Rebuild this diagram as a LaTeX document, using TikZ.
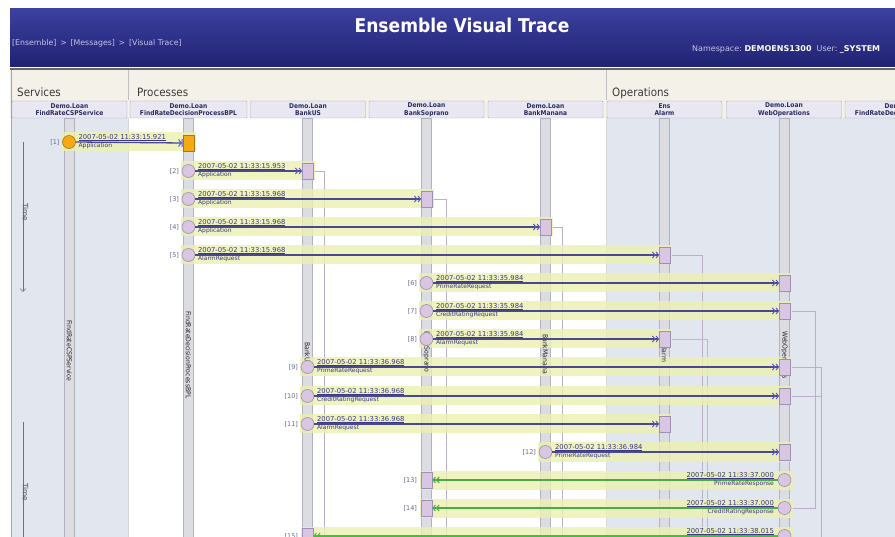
\documentclass[tikz,border=0pt]{standalone}
\usepackage{fontspec}
\setmainfont{DejaVu Sans}
\newfontfamily\condfont{DejaVu Sans Condensed}
\usetikzlibrary{arrows.meta,shapes.geometric}
\pgfdeclarelayer{back}
\pgfdeclarelayer{bands}
\pgfsetlayers{back,bands,main}
\definecolor{navyA}{HTML}{3D409E}
\definecolor{navyB}{HTML}{1F2272}
\definecolor{cream}{HTML}{F4F2E8}
\definecolor{lane}{HTML}{E2E7EF}
\definecolor{hdrbox}{HTML}{E8E7F2}
\definecolor{hdredge}{HTML}{A9A7C9}
\definecolor{hdrtxt}{HTML}{2C2C5E}
\definecolor{lifefill}{HTML}{DCDCE3}
\definecolor{lifeedge}{HTML}{B2B2BE}
\definecolor{bandc}{HTML}{ECF0B0}
\definecolor{msg}{HTML}{4A4890}
\definecolor{tipc}{HTML}{5A58C8}
\definecolor{stamp}{HTML}{3B3785}
\definecolor{lbl}{HTML}{6A6A98}
\definecolor{lav}{HTML}{D8C6E2}
\definecolor{lavedge}{HTML}{9E90B2}
\definecolor{orangeA}{HTML}{F5A915}
\definecolor{resp}{HTML}{4DAA48}
\definecolor{respB}{HTML}{3CC23C}
\definecolor{durline}{HTML}{B9B0C6}
\definecolor{pinkline}{HTML}{E2A6C4}
\definecolor{crumb}{HTML}{C4C4EC}
\definecolor{sect}{HTML}{3A3A3A}
\tikzset{
  circ/.style={circle, draw=lavedge, fill=lav, minimum size=13pt, inner sep=0pt, line width=0.6pt},
  lbox/.style={rectangle, draw=lavedge, fill=lav, minimum width=11pt, minimum height=16pt, inner sep=0pt, line width=0.6pt},
  msgline/.style={draw=msg, line width=1.5pt, -{Straight Barb[length=2.5pt,width=6pt,line width=1pt,color=tipc] Straight Barb[length=2.5pt,width=6pt,line width=1pt,color=tipc]}},
  respline/.style={draw=resp, line width=1.3pt, -{Straight Barb[length=2.5pt,width=6pt,line width=1pt] Straight Barb[length=2.5pt,width=6pt,line width=1pt]}},
  respthick/.style={draw=respB, line width=2.4pt, -{Straight Barb[length=2.5pt,width=6pt,line width=1pt] Straight Barb[length=2.5pt,width=6pt,line width=1pt]}},
  bandst/.style={fill=bandc, opacity=0.8},
  idxst/.style={text=lbl, font=\fontsize{6.5}{7}\selectfont, inner sep=0.5pt},
  stampst/.style={text=stamp, font=\fontsize{6.8}{7.5}\selectfont, inner sep=0.6pt},
  namest/.style={text=stamp, font=\fontsize{6}{7}\selectfont, inner sep=0.6pt},
  hdr/.style={rectangle, rounded corners=1pt, draw=hdredge, fill=hdrbox, minimum width=115pt, minimum height=17pt, inner sep=0pt, align=center, text=hdrtxt, font=\condfont\bfseries\fontsize{6.6}{7.6}\selectfont},
  lifebar/.style={rectangle, draw=lifeedge, fill=lifefill, minimum width=10pt, minimum height=420pt, inner sep=0pt, line width=0.5pt},
  lifetxt/.style={rotate=-90, text=black!85, font=\condfont\fontsize{6.8}{7}\selectfont, inner sep=0.5pt},
  sectst/.style={anchor=base west, text=sect, font=\condfont\fontsize{11.5}{13}\selectfont, inner sep=0pt},
  dur/.style={draw=durline, line width=0.6pt},
  timest/.style={rotate=-90, text=black!70, font=\fontsize{7.3}{8}\selectfont, inner sep=0.5pt}
}
\newcommand{\fwdmsg}[6]{%
  \begin{pgfonlayer}{bands}\fill[bandst] (#3-8,#2-9.5) rectangle (#4+7,#2+9.5);\end{pgfonlayer}
  \node[circ] (c#1) at (#3,#2) {};
  \node[lbox] (b#1) at (#4+0.5,#2) {};
  \draw[msgline] (c#1.east) -- (b#1.west);
  \node[idxst, anchor=east] (n#1) at ([xshift=-2pt]c#1.west) {[#1]};
  \node[stampst, anchor=south west] (s#1) at ([xshift=2pt]c#1.east) {\underline{#5}};
  \node[namest, anchor=north west] (m#1) at ([xshift=2pt]c#1.east) {#6};
}
\newcommand{\respmsg}[7]{%
  \begin{pgfonlayer}{bands}\fill[bandst] (#4-7,#2-9.5) rectangle (#3+8,#2+9.5);\end{pgfonlayer}
  \node[circ] (c#1) at (#3,#2) {};
  \node[lbox] (b#1) at (#4,#2) {};
  \draw[#7] (c#1.west) -- (b#1.east);
  \node[idxst, anchor=east] (n#1) at ([xshift=-3pt]b#1.west) {[#1]};
  \node[stampst, anchor=south east] (s#1) at ([xshift=-3pt]c#1.west) {\underline{#5}};
  \node[namest, anchor=north east] (m#1) at ([xshift=-3pt]c#1.west) {#6};
}
\begin{document}
\begin{tikzpicture}[x=1pt,y=-1pt]
\useasboundingbox (0,0) rectangle (895,537);
\begin{pgfonlayer}{back}
\clip (0,0) rectangle (895,537);
\fill[white] (0,0) rectangle (895,537);
% banner
\shade[top color=navyA, bottom color=navyB] (10,9) rectangle (895,67);
% section band
\fill[cream] (10,70) rectangle (895,118);
\draw[black!60, line width=1.2pt] (10,69) -- (895,69);
\draw[black!25, line width=0.6pt] (128,70) -- (128,100);
\draw[black!25, line width=0.6pt] (606,70) -- (606,100);
% lanes
\fill[lane] (11,118) rectangle (128,537);
\fill[lane] (606,118) rectangle (895,537);
\draw[black!35, line width=0.6pt] (11,70) -- (11,537);
\draw[black!15, line width=0.5pt] (128,118) -- (128,537);
\draw[black!15, line width=0.5pt] (606,118) -- (606,537);
% lifelines
\node[lifebar] (L1) at (69.5,328) {};
\node[lifebar] (L2) at (188.5,328) {};
\node[lifebar] (L3) at (307.5,328) {};
\node[lifebar] (L4) at (426.5,328) {};
\node[lifebar] (L5) at (545.5,328) {};
\node[lifebar] (L6) at (664.5,328) {};
\node[lifebar] (L7) at (784.5,328) {};
% duration lines
\draw[dur] (312.5,171) -- (324,171) -- (324,537);
\draw[dur] (432,199) -- (446,199) -- (446,537);
\draw[dur] (551,227) -- (562,227) -- (562,537);
\draw[dur] (670,255) -- (702,255) -- (702,537);
\draw[draw=pinkline, line width=0.6pt] (670,339) -- (707,339) -- (707,537);
\draw[dur] (790,311) -- (815,311) -- (815,508) -- (790,508);
\draw[dur] (790,367) -- (821,367) -- (821,537);
\draw[dur] (790,396) -- (821,396);
\end{pgfonlayer}
\clip (0,0) rectangle (895,537);
\node[anchor=base, text=white, font=\condfont\bfseries\fontsize{19}{22}\selectfont, inner sep=0pt] (title) at (462,33) {Ensemble Visual Trace};
\node[anchor=base west, text=crumb, font=\fontsize{7.8}{9}\selectfont, inner sep=0pt] (crumbs) at (12,46) {[Ensemble] \,>\, [Messages] \,>\, [Visual Trace]};
\node[anchor=base west, font=\fontsize{8}{9}\selectfont, inner sep=0pt] (ns) at (692,52) {\textcolor{crumb}{Namespace:}\ \textcolor{white}{\bfseries DEMOENS1300}\ \ \textcolor{crumb}{User:}\ \textcolor{white}{\bfseries \_SYSTEM}};
\node[sectst] (secS) at (17,97) {Services};
\node[sectst] (secP) at (137,97) {Processes};
\node[sectst] (secO) at (612,97) {Operations};
% column headers
\node[hdr] (h1) at (69.5,109.5) {Demo.Loan\\FindRateCSPService};
\node[hdr, minimum width=117pt] (h2) at (188.5,109.5) {Demo.Loan\\FindRateDecisionProcessBPL};
\node[hdr] (h3) at (308,109.5) {Demo.Loan\\BankUS};
\node[hdr] (h4) at (426.5,109.5) {Demo.Loan\\BankSoprano};
\node[hdr] (h5) at (545.5,109.5) {Demo.Loan\\BankManana};
\node[hdr] (h6) at (664.5,109.5) {Ens\\Alarm};
\node[hdr] (h7) at (784,109.5) {Demo.Loan\\WebOperations};
\node[hdr, minimum width=117pt] (h8) at (903.5,109.5) {Demo.Loan\\FindRateDecisionProcessBPL};
% lifeline labels
\node[lifetxt] (lt1) at (69.5,351) {FindRateCSPService};
\node[lifetxt] (lt2) at (188.5,355) {FindRateDecisionProcessBPL};
\node[lifetxt] (lt3) at (307.5,354) {BankUS};
\node[lifetxt] (lt4) at (426.5,352) {BankSoprano};
\node[lifetxt] (lt5) at (545.5,354) {BankManana};
\node[lifetxt] (lt6) at (664.5,353) {Alarm};
\node[lifetxt] (lt7) at (784.5,355) {WebOperations};
% time arrows
\coordinate (ta1) at (23,142);
\coordinate (ta2) at (23,292);
\coordinate (tb1) at (23,422);
\coordinate (tb2) at (23,540);
\draw[black!55, line width=0.7pt, -{Straight Barb[length=3pt,width=6pt]}] (ta1) -- (ta2);
\draw[black!55, line width=0.7pt] (tb1) -- (tb2);
\node[timest, anchor=south] (time1) at (22,212) {Time};
\node[timest, anchor=south] (time2) at (22,492) {Time};
% message 1
\begin{pgfonlayer}{bands}\fill[bandst] (61,132.5) rectangle (196,151.5);\end{pgfonlayer}
\node[circ, fill=orangeA, draw=orangeA!70!black] (c1) at (69,142) {};
\node[lbox, fill=orangeA, draw=orangeA!70!black] (b1) at (188.5,143) {};
\draw[draw=msg, line width=1.3pt, -{Straight Barb[length=2.5pt,width=7pt,line width=1pt,color=tipc] Bar[width=8pt,line width=1pt,color=tipc]}] (c1.east) -- (b1.west);
\node[idxst, anchor=east] (n1) at ([xshift=-2pt]c1.west) {[1]};
\node[stampst, anchor=south west] (s1) at ([xshift=2pt]c1.east) {\underline{2007-05-02 11:33:15.921}};
\node[namest, anchor=north west] (m1) at ([xshift=2pt]c1.east) {Application};
% forward messages
\fwdmsg{2}{171}{188.5}{307.5}{2007-05-02 11:33:15.953}{Application}
\fwdmsg{3}{199}{188.5}{426.5}{2007-05-02 11:33:15.968}{Application}
\fwdmsg{4}{227}{188.5}{545.5}{2007-05-02 11:33:15.968}{Application}
\fwdmsg{5}{255}{188.5}{664.5}{2007-05-02 11:33:15.968}{AlarmRequest}
\fwdmsg{6}{283}{426.5}{784.5}{2007-05-02 11:33:35.984}{PrimeRateRequest}
\fwdmsg{7}{311}{426.5}{784.5}{2007-05-02 11:33:35.984}{CreditRatingRequest}
\fwdmsg{8}{339}{426.5}{664.5}{2007-05-02 11:33:35.984}{AlarmRequest}
\fwdmsg{9}{367}{307.5}{784.5}{2007-05-02 11:33:36.968}{PrimeRateRequest}
\fwdmsg{10}{396}{307.5}{784.5}{2007-05-02 11:33:36.968}{CreditRatingRequest}
\fwdmsg{11}{424}{307.5}{664.5}{2007-05-02 11:33:36.968}{AlarmRequest}
\fwdmsg{12}{452}{545.5}{784.5}{2007-05-02 11:33:36.984}{PrimeRateRequest}
% responses
\respmsg{13}{480}{784.5}{426.5}{2007-05-02 11:33:37.000}{PrimeRateResponse}{respline}
\respmsg{14}{508}{784.5}{426.5}{2007-05-02 11:33:37.000}{CreditRatingResponse}{respline}
\respmsg{15}{536}{784.5}{307.5}{2007-05-02 11:33:38.015}{}{respthick}
\end{tikzpicture}
\end{document}
